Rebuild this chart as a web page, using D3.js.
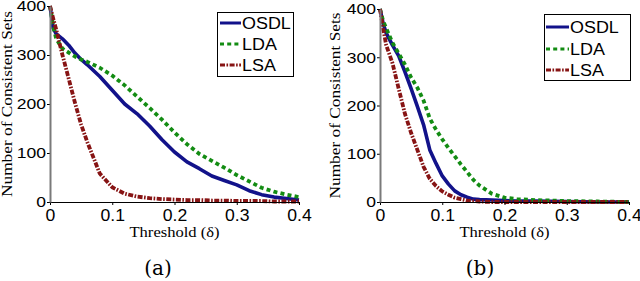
<html>
<head>
<script src="https://d3js.org/d3.v7.min.js"></script>
<style>
  body { margin: 0; background: white; }
  svg { display: block; }
</style>
</head>
<body>
<svg id="chart" width="640" height="281"></svg>
<script>
// threshold grids and series values
var xs_a = [0, 0.005, 0.01, 0.02, 0.03, 0.04, 0.05, 0.06, 0.08, 0.1, 0.12, 0.14, 0.16, 0.18, 0.2, 0.22, 0.24, 0.26, 0.28, 0.3, 0.32, 0.34, 0.36, 0.38, 0.4];
var osdl_a = [400, 355, 343, 333, 320, 304, 291, 280, 256, 228, 200, 180, 155, 127, 102, 82, 68, 53, 44, 35, 23, 15, 10, 7, 4];
var lda_a = [400, 360, 333, 313, 305, 297, 291, 286, 274, 258, 238, 215, 192, 168, 142, 118, 98, 84, 70, 55, 42, 29, 21, 15, 10];
var lsa_a = [400, 375, 352, 300, 252, 203, 158, 122, 58, 30, 17, 11, 8, 6, 5, 4, 4, 3, 3, 2, 2, 2, 1, 1, 1];

var xs_b = [0, 0.005, 0.01, 0.02, 0.03, 0.04, 0.05, 0.06, 0.07, 0.08, 0.09, 0.1, 0.11, 0.12, 0.13, 0.14, 0.15, 0.16, 0.18, 0.2, 0.22, 0.25, 0.3, 0.35, 0.4];
var osdl_b = [400, 370, 350, 325, 303, 270, 235, 198, 160, 108, 80, 54, 37, 23, 15, 10, 6, 5, 4, 3, 2, 2, 1, 0, 0];
var lda_b = [400, 375, 360, 330, 308, 285, 258, 237, 210, 173, 150, 130, 112, 95, 78, 62, 46, 34, 17, 9, 6, 4, 2, 1, 0];
var lsa_b = [400, 360, 325, 288, 235, 183, 143, 108, 73, 48, 33, 22, 15, 9, 6, 3, 2, 1, 0, 0, 0, 0, 0, 0, 0];

var seriesNames = ['OSDL', 'LDA', 'LSA'];
var xTicks = [0, 0.1, 0.2, 0.3, 0.4];
var yTicks = [0, 100, 200, 300, 400];
var captions = ['(a)', '(b)'];

var colors = {OSDL: '#12128a', LDA: '#138c13', LSA: '#871414'};
var dashes = {OSDL: null, LDA: '4,3.2', LSA: '5,1.5,1.6,1.5'};

var sans = "'Liberation Sans', Arial, sans-serif";
var serif = "'Liberation Serif', 'Times New Roman', serif";

var svg = d3.select('#chart');

// the reference's sans text is a bit wider than Liberation Sans
function widen(sel, f) {
  sel.each(function() {
    var len = this.getComputedTextLength();
    d3.select(this).attr('textLength', len * f).attr('lengthAdjust', 'spacingAndGlyphs');
  });
}

var panels = [
  {xs: xs_a, vals: [osdl_a, lda_a, lsa_a], x0: 50, x1: 299, y0: 202, y1: 6,
   legend: {x: 217, y: 12, w: 76, h: 64, rows: [23, 44, 65], lx0: 220, lx1: 241}, cap: 158, ytx: 7},
  {xs: xs_b, vals: [osdl_b, lda_b, lsa_b], x0: 380, x1: 629, y0: 202, y1: 9,
   legend: {x: 544, y: 14, w: 86, h: 66, rows: [27, 49, 70], lx0: 546, lx1: 569}, cap: 480, ytx: 335}
];

panels.forEach(function(p, i) {
  var x = d3.scaleLinear().domain([0, 0.4]).range([p.x0, p.x1]);
  var y = d3.scaleLinear().domain([0, 400]).range([p.y0, p.y1]);
  var g = svg.append('g');

  // lines
  var line = d3.line().x(function(d) { return x(d[0]); }).y(function(d) { return y(d[1]); });
  seriesNames.forEach(function(name, k) {
    var pts = p.xs.map(function(v, j) { return [v, p.vals[k][j]]; });
    g.append('path')
      .datum(pts)
      .attr('d', line)
      .attr('fill', 'none')
      .attr('stroke', colors[name])
      .attr('stroke-width', name == 'OSDL' ? 3.6 : 3.8)
      .attr('stroke-dasharray', dashes[name])
      .attr('stroke-linejoin', 'round');
  });

  // x axis
  var xa = g.append('g').attr('transform', 'translate(0,' + p.y0 + ')')
    .call(d3.axisBottom(x).tickValues(xTicks).tickFormat(d3.format('')).tickSizeInner(3).tickSizeOuter(0).tickPadding(5));
  xa.select('.domain').attr('stroke', '#000');
  xa.selectAll('text').attr('font-family', sans).attr('font-size', 16).attr('fill', '#000');
  widen(xa.selectAll('text'), 1.1);

  // y axis
  var ya = g.append('g').attr('transform', 'translate(' + p.x0 + ',0)')
    .call(d3.axisLeft(y).tickValues(yTicks).tickSizeInner(3).tickSizeOuter(0).tickPadding(1));
  ya.select('.domain').attr('stroke', '#7a7a7a').attr('stroke-width', 2);
  ya.selectAll('text').attr('font-family', sans).attr('font-size', 15.5).attr('fill', '#000');
  widen(ya.selectAll('text'), 1.13);
  ya.select('.domain').raise();

  // axis titles
  g.append('text')
    .attr('x', (p.x0 + p.x1) / 2).attr('y', 237)
    .attr('text-anchor', 'middle')
    .attr('font-family', serif)
    .attr('font-size', 15)
    .attr('textLength', 90).attr('lengthAdjust', 'spacingAndGlyphs')
    .text('Threshold (δ)');

  g.append('text')
    .attr('transform', 'translate(' + (p.ytx + 5) + ',' + ((p.y0 + p.y1) / 2) + ') rotate(-90)')
    .attr('text-anchor', 'middle')
    .attr('font-family', serif)
    .attr('font-size', 15)
    .attr('textLength', 186).attr('lengthAdjust', 'spacingAndGlyphs')
    .text('Number of Consistent Sets');

  // legend
  var L = p.legend;
  g.append('rect').attr('x', L.x + 0.5).attr('y', L.y + 0.5).attr('width', L.w).attr('height', L.h)
    .attr('fill', 'white').attr('stroke', '#000').attr('stroke-width', 1);
  seriesNames.forEach(function(name, k) {
    g.append('line')
      .attr('x1', L.lx0).attr('x2', L.lx1).attr('y1', L.rows[k]).attr('y2', L.rows[k])
      .attr('stroke', colors[name]).attr('stroke-width', 3)
      .attr('stroke-dasharray', dashes[name]);
    var t = g.append('text')
      .attr('x', L.lx1 + 1).attr('y', L.rows[k] + 6)
      .attr('font-family', sans)
      .attr('font-size', 16)
      .text(name);
    widen(t, 1.12);
  });

  // caption
  g.append('text')
    .attr('x', p.cap).attr('y', 275)
    .attr('text-anchor', 'middle')
    .attr('font-family', "'DejaVu Serif', serif")
    .attr('font-size', 20)
    .text(captions[i]);
});
</script>
</body>
</html>
